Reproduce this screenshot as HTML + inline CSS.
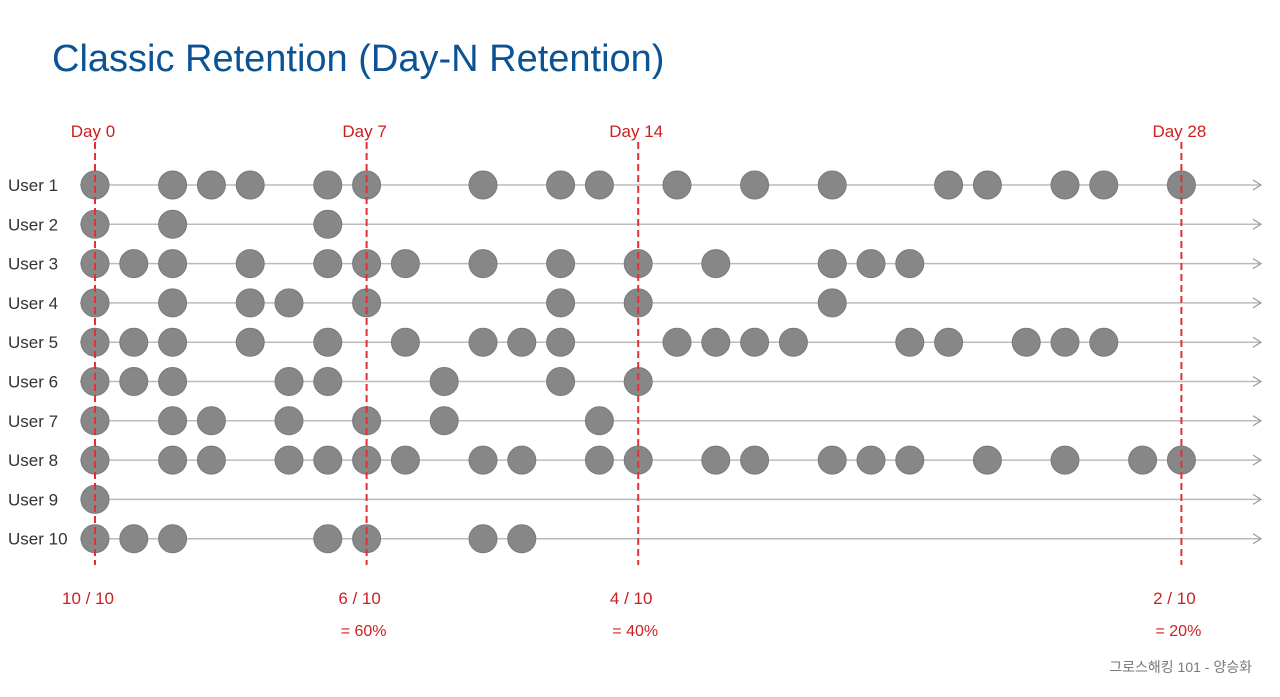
<!DOCTYPE html>
<html><head><meta charset="utf-8"><style>
body{margin:0;background:#fff;width:1280px;height:692px;overflow:hidden;font-family:"Liberation Sans","Noto Sans CJK KR",sans-serif}
</style></head><body>
<svg width="1280" height="692" xmlns="http://www.w3.org/2000/svg" font-family="Liberation Sans, Noto Sans CJK KR, sans-serif">
<text x="52" y="71" font-size="38" fill="#0b5394">Classic Retention (Day-N Retention)</text>
<g id="rows"></g>
<g id="marks"></g>
<text x="1252" y="672" font-size="14" fill="#777" text-anchor="end">그로스해킹 101 - 양승화</text>
</svg>
<script>
const users=["User 1","User 2","User 3","User 4","User 5","User 6","User 7","User 8","User 9","User 10"];
const activeDays=[
[0,2,3,4,6,7,10,12,13,15,17,19,22,23,25,26,28],
[0,2,6],
[0,1,2,4,6,7,8,10,12,14,16,19,20,21],
[0,2,4,5,7,12,14,19],
[0,1,2,4,6,8,10,11,12,15,16,17,18,21,22,24,25,26],
[0,1,2,5,6,9,12,14],
[0,2,3,5,7,9,13],
[0,2,3,5,6,7,8,10,11,13,14,16,17,19,20,21,23,25,27,28],
[0],
[0,1,2,6,7,10,11]];
const markerDays=[0,7,14,28];
const markerLabels=["Day 0","Day 7","Day 14","Day 28"];
const ratioLabels=["10 / 10","6 / 10","4 / 10","2 / 10"];
const pctLabels=["","= 60%","= 40%","= 20%"];
const NS="http://www.w3.org/2000/svg";
const x=d=>95+d*38.8;
const y=i=>185+i*39.3;
function mk(t,a,p){const e=document.createElementNS(NS,t);for(const k in a)e.setAttribute(k,a[k]);p.appendChild(e);return e;}
const rows=document.getElementById('rows'),marks=document.getElementById('marks');
users.forEach((u,i)=>{
 const t=mk('text',{x:8,y:y(i)+6,'font-size':17,fill:'#333'},rows);t.textContent=u;
 
 
 const l=mk('line',{x1:80,y1:y(i),x2:1260,y2:y(i),stroke:'#bbb','stroke-width':1.5},rows);
 
 
 const a=mk('polyline',{points:`${1253},${y(i)-5} ${1261},${y(i)} ${1253},${y(i)+5}`,fill:'none',stroke:'#999','stroke-width':1.2},rows);
 
 
 activeDays[i].forEach(d=>{
  const c=mk('circle',{cx:x(d),cy:y(i),r:14,fill:'#878787',stroke:'#7a7a7a','stroke-width':1},rows);
  
  
 });
});
markerDays.forEach((d,j)=>{
 const l=mk('line',{x1:x(d),y1:142,x2:x(d),y2:565,stroke:'#d33','stroke-width':2,'stroke-dasharray':'7,4'},marks);
 
 
 const t=mk('text',{x:x(d)-2,y:137,'font-size':17,fill:'#cc1f1f','text-anchor':'middle'},marks);t.textContent=markerLabels[j];
 
 
 const r=mk('text',{x:x(d)-7,y:604,'font-size':17,fill:'#cc1f1f','text-anchor':'middle'},marks);r.textContent=ratioLabels[j];
 
 
 if(pctLabels[j]){const p=mk('text',{x:x(d)-3,y:636,'font-size':16,fill:'#cc1f1f','text-anchor':'middle'},marks);p.textContent=pctLabels[j];
 
 }
});
</script>
</body></html>
